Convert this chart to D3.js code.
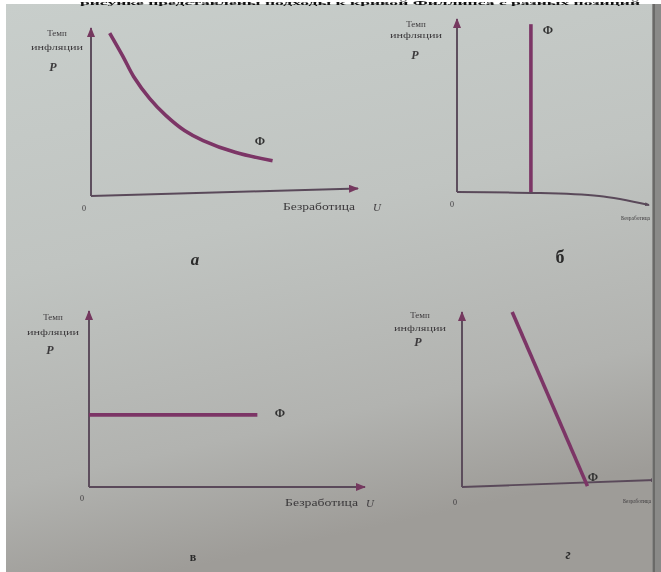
<!DOCTYPE html>
<html><head><meta charset="utf-8">
<script src="https://cdn.jsdelivr.net/npm/d3@7"></script>
<style>html,body{margin:0;padding:0;background:#fff;overflow:hidden}</style>
</head><body><svg id="c" width="661" height="572"></svg>
<script>
// ---------------- data ----------------
const panelLetters = ["а", "б", "в", "г"];
const yAxisLines = ["Темп", "инфляции"];
const yAxisSymbol = "P";
const xAxisTitle = "Безработица";
const xAxisSymbol = "U";
const originLabel = "0";
const curveLabel = "Ф";
const headerText = "рисунке представлены подходы к кривой Филлипса с разных позиций";

const uDomain = [0, 10];
const pDomain = [0, 10];

// Phillips curves (U, P), in panel units
const curveA_U = [0.7, 1.2, 1.6, 2.2, 2.8, 3.5, 4.2, 5.4, 6.8];
const curveA_P = [9.7, 8.3, 7.1, 5.8, 4.8, 3.9, 3.3, 2.6, 2.1];
const curveB_U = [3.85, 3.85];
const curveB_P = [0.0, 9.7];
const curveC_U = [0.0, 6.1];
const curveC_P = [4.1, 4.1];
const curveD_U = [2.6, 6.5];
const curveD_P = [10.0, 0.05];

// x-axis lines (as photographed, slightly bent by perspective)
const xAxisA_U = [0, 10];            const xAxisA_P = [0, 0.45];
const xAxisB_U = [0, 4.3, 7.4, 10];  const xAxisB_P = [0, -0.06, -0.23, -0.75];
const xAxisC_U = [0, 10];            const xAxisC_P = [0, 0];
const xAxisD_U = [0, 10];            const xAxisD_P = [0, 0.4];

// ---------------- layout ----------------
const panels = [
  { frame: {x0: 91, x1: 358, y0: 196, y1: 28}, cu: curveA_U, cp: curveA_P, au: xAxisA_U, ap: xAxisA_P, smooth: true, bigX: true,
    lab: {tx: 57, t1: 36, t2: 50, px: 53, py: 71, zx: 84, zy: 211, bx: 283, by: 210, bw: 72, bs: 10, ux: 377, uy: 211, fx: 260, fy: 145, lx: 195, ly: 265, ls: 17, li: true}},
  { frame: {x0: 457, x1: 649, y0: 192, y1: 19}, cu: curveB_U, cp: curveB_P, au: xAxisB_U, ap: xAxisB_P, smooth: false, bigX: false,
    lab: {tx: 416, t1: 27, t2: 38, px: 415, py: 59, zx: 452, zy: 207, bx: 621, by: 220, bw: 29, bs: 7, ux: null, uy: 0, fx: 548, fy: 34, lx: 560, ly: 263, ls: 18, li: false}},
  { frame: {x0: 89, x1: 365, y0: 487, y1: 311}, cu: curveC_U, cp: curveC_P, au: xAxisC_U, ap: xAxisC_P, smooth: false, bigX: true,
    lab: {tx: 53, t1: 320, t2: 335, px: 50, py: 354, zx: 82, zy: 501, bx: 285, by: 506, bw: 73, bs: 10, ux: 370, uy: 507, fx: 280, fy: 417, lx: 193, ly: 561, ls: 12, li: false}},
  { frame: {x0: 462, x1: 655, y0: 487, y1: 312}, cu: curveD_U, cp: curveD_P, au: xAxisD_U, ap: xAxisD_P, smooth: false, bigX: false,
    lab: {tx: 420, t1: 318, t2: 331, px: 418, py: 346, zx: 455, zy: 505, bx: 623, by: 503, bw: 28, bs: 7, ux: null, uy: 0, fx: 593, fy: 481, lx: 568, ly: 559, ls: 14, li: true}}
];

const axisColor = "#5a4a5a";
const curveColor = "#7c3566";
const textColor = "#3c3a3c";
const serif = "'Liberation Serif','DejaVu Serif',serif";

const svg = d3.select("#c");
const defs = svg.append("defs");

// background gradient (photographed page)
const g1 = defs.append("linearGradient").attr("id", "bg").attr("x1", 0).attr("y1", 0).attr("x2", 0.25).attr("y2", 1);
g1.append("stop").attr("offset", "0%").attr("stop-color", "#c8cecb");
g1.append("stop").attr("offset", "45%").attr("stop-color", "#c0c4c1");
g1.append("stop").attr("offset", "80%").attr("stop-color", "#b2b3b0");
g1.append("stop").attr("offset", "100%").attr("stop-color", "#9e9c98");

const blur = defs.append("filter").attr("id", "soft").attr("x", "-5%").attr("y", "-5%").attr("width", "110%").attr("height", "110%");
blur.append("feGaussianBlur").attr("stdDeviation", 0.55);
const gray = defs.append("filter").attr("id", "gray");
gray.append("feColorMatrix").attr("type", "saturate").attr("values", 0);

function marker(id, len, wid, color) {
  defs.append("marker").attr("id", id)
    .attr("viewBox", `0 0 ${len} ${wid}`)
    .attr("refX", len - 1).attr("refY", wid / 2)
    .attr("markerUnits", "userSpaceOnUse")
    .attr("markerWidth", len).attr("markerHeight", wid)
    .attr("orient", "auto")
    .append("path").attr("d", `M0,0 L${len},${wid / 2} L0,${wid} Z`).attr("fill", color);
}
marker("big", 10, 8, "#75385f");
marker("small", 5, 4, "#5a4a5a");

svg.append("rect").attr("width", 661).attr("height", 572).attr("fill", "#ffffff");
svg.append("rect").attr("x", 6).attr("y", 4).attr("width", 655).attr("height", 568).attr("fill", "url(#bg)");

// header text line at the top edge of the photo
svg.append("g").attr("filter", "url(#gray)")
  .append("text").attr("x", 80).attr("y", 5).attr("font-family", serif).attr("font-size", 6.5)
  .attr("font-weight", "bold")
  .attr("fill", "#111").attr("textLength", 560).attr("lengthAdjust", "spacingAndGlyphs").text(headerText);

const main = svg.append("g").attr("filter", "url(#soft)");

panels.forEach((p, i) => {
  const f = p.frame;
  const x = d3.scaleLinear().domain(uDomain).range([f.x0, f.x1]);
  const y = d3.scaleLinear().domain(pDomain).range([f.y0, f.y1]);
  const g = main.append("g");

  // y axis
  g.append("line").attr("x1", x(0)).attr("y1", y(0)).attr("x2", x(0)).attr("y2", y(pDomain[1]))
    .attr("stroke", axisColor).attr("stroke-width", 1.9).attr("marker-end", "url(#big)");

  // x axis
  const axisPts = p.au.map((u, k) => [x(u), y(p.ap[k])]);
  g.append("path").attr("d", d3.line().curve(d3.curveMonotoneX)(axisPts))
    .attr("fill", "none").attr("stroke", axisColor).attr("stroke-width", 1.9)
    .attr("marker-end", p.bigX ? "url(#big)" : "url(#small)");

  // Phillips curve
  const pts = p.cu.map((u, k) => [x(u), y(p.cp[k])]);
  g.append("path").attr("d", d3.line().curve(p.smooth ? d3.curveCatmullRom.alpha(0.5) : d3.curveLinear)(pts))
    .attr("fill", "none").attr("stroke", curveColor).attr("stroke-width", 3.6).attr("stroke-linecap", "butt");

  const L = p.lab;
  g.append("text").attr("x", L.tx).attr("y", L.t1).attr("text-anchor", "middle")
    .attr("font-family", serif).attr("font-size", 9).attr("fill", textColor).text(yAxisLines[0]);
  g.append("text").attr("x", L.tx).attr("y", L.t2).attr("text-anchor", "middle")
    .attr("font-family", serif).attr("font-size", 9).attr("fill", textColor)
    .attr("textLength", 52).attr("lengthAdjust", "spacingAndGlyphs").text(yAxisLines[1]);
  g.append("text").attr("x", L.px).attr("y", L.py).attr("text-anchor", "middle")
    .attr("font-family", serif).attr("font-size", 12).attr("font-style", "italic").attr("font-weight", "bold")
    .attr("fill", textColor).text(yAxisSymbol);
  g.append("text").attr("x", L.zx).attr("y", L.zy).attr("text-anchor", "middle")
    .attr("font-family", serif).attr("font-size", 8).attr("fill", textColor).text(originLabel);
  g.append("text").attr("x", L.bx).attr("y", L.by)
    .attr("font-family", serif).attr("font-size", L.bs).attr("fill", textColor)
    .attr("textLength", L.bw).attr("lengthAdjust", "spacingAndGlyphs").text(xAxisTitle);
  if (L.ux !== null) {
    g.append("text").attr("x", L.ux).attr("y", L.uy).attr("text-anchor", "middle")
      .attr("font-family", serif).attr("font-size", 11).attr("font-style", "italic")
      .attr("fill", textColor).text(xAxisSymbol);
  }
  g.append("text").attr("x", L.fx).attr("y", L.fy).attr("text-anchor", "middle")
    .attr("font-family", serif).attr("font-size", 12).attr("font-weight", "bold")
    .attr("fill", "#333").text(curveLabel);
  g.append("text").attr("x", L.lx).attr("y", L.ly).attr("text-anchor", "middle")
    .attr("font-family", serif).attr("font-size", L.ls).attr("font-weight", "bold")
    .attr("font-style", L.li ? "italic" : "normal")
    .attr("fill", "#2a2a2a").text(panelLetters[i]);
});

// page edge on the right
svg.append("rect").attr("x", 652).attr("y", 4).attr("width", 9).attr("height", 568).attr("fill", "#8a8a88");
svg.append("rect").attr("x", 653).attr("y", 4).attr("width", 2).attr("height", 568).attr("fill", "#6a6a68");
</script>
</body></html>
